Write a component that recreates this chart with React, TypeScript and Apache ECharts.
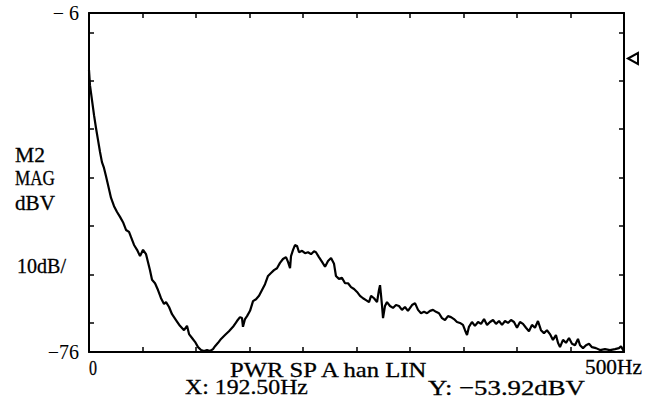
import React, { useEffect, useRef } from "react";
import * as echarts from "echarts";

// Spectrum trace (Hz, dBV)
const freqHz = [
  0, 0.9, 2.8, 4.7, 6.5, 8.4, 10.3, 12.1, 14.0, 15.9, 17.8, 20.6, 23.4, 26.2, 29.0, 31.8, 34.6, 37.4, 39.3, 42.1,
  44.9, 47.7, 50.5, 53.3, 55.1, 57.0, 58.9, 61.7, 64.5, 67.3, 70.1, 72.0, 74.8, 77.6, 81.3, 85.0, 88.8, 91.6, 93.5, 96.3,
  99.1, 101.9, 104.7, 107.5, 110.3, 113.1, 115.9, 117.8, 120.6, 123.4, 127.1, 130.8, 134.6, 138.3, 141.1, 143.0, 143.9, 145.8, 147.7, 150.5,
  153.3, 156.1, 158.9, 161.7, 164.5, 167.3, 170.1, 172.9, 175.7, 178.5, 181.3, 184.1, 186.0, 187.9, 188.8, 190.7, 192.5, 194.4, 196.3, 199.1,
  201.9, 204.7, 207.5, 210.3, 212.1, 214.9, 217.8, 220.6, 223.4, 226.2, 229.0, 230.8, 233.6, 236.4, 239.3, 242.1, 244.9, 247.7, 250.5, 253.3,
  256.1, 258.9, 261.7, 263.6, 266.4, 269.2, 271.0, 272.0, 272.9, 273.8, 274.8, 276.6, 278.5, 281.3, 284.1, 286.9, 289.7, 292.5, 295.3, 298.1,
  301.9, 304.7, 307.5, 310.3, 313.1, 315.9, 318.7, 321.5, 324.3, 327.1, 329.9, 332.7, 335.5, 338.3, 341.1, 343.9, 346.7, 349.5, 351.4, 353.3,
  355.1, 357.9, 360.7, 363.6, 366.4, 369.2, 372.0, 374.8, 377.6, 380.4, 383.2, 386.0, 388.8, 391.6, 394.4, 397.2, 400.0, 402.8, 405.6, 408.4,
  411.2, 414.0, 416.8, 419.6, 422.4, 425.2, 428.0, 430.8, 433.6, 436.4, 438.3, 440.2, 443.0, 445.8, 448.6, 451.4, 454.2, 457.0, 458.9, 461.7,
  464.5, 467.3, 470.1, 473.8, 477.6, 482.2, 486.9, 491.6, 495.3, 497.2, 499.1, 500.0,
];
const magDbv = [
  -17.8, -20.9, -24.0, -27.1, -29.7, -32.2, -34.7, -36.8, -38.0, -39.7, -41.5, -44.2, -45.9, -47.1, -48.1, -49.2, -50.8, -51.2, -52.3, -53.9,
  -54.9, -56.2, -54.9, -55.8, -57.4, -59.1, -61.1, -61.8, -63.2, -64.9, -66.1, -65.7, -66.7, -68.2, -69.4, -70.6, -71.5, -70.6, -72.3, -73.1,
  -73.9, -75.0, -75.6, -75.8, -75.6, -75.8, -75.4, -74.8, -74.1, -73.3, -72.5, -71.7, -70.8, -69.6, -68.8, -69.0, -70.8, -69.2, -68.6, -67.5,
  -65.5, -65.1, -64.4, -63.2, -62.0, -60.3, -59.7, -59.1, -58.7, -57.6, -56.8, -56.4, -57.4, -58.7, -56.2, -54.9, -53.92, -54.1, -55.4, -55.1,
  -55.6, -55.4, -55.8, -55.2, -55.4, -56.4, -57.4, -58.4, -57.2, -56.6, -57.8, -60.3, -60.9, -60.7, -61.8, -61.8, -62.6, -63.0, -63.6, -64.4,
  -64.9, -65.3, -65.7, -64.4, -64.9, -65.7, -63.2, -62.2, -64.2, -66.3, -69.0, -66.5, -65.7, -66.5, -66.9, -66.3, -66.5, -67.3, -66.7, -67.5,
  -66.3, -65.9, -67.3, -68.0, -67.7, -68.0, -67.5, -67.3, -67.7, -68.0, -69.0, -69.4, -68.6, -68.8, -69.2, -69.8, -70.0, -70.4, -71.5, -72.5,
  -70.8, -69.8, -70.6, -69.8, -70.2, -69.2, -70.4, -69.8, -69.4, -70.2, -69.6, -70.4, -69.6, -70.0, -69.4, -69.8, -71.0, -69.8, -70.2, -71.0,
  -71.7, -70.4, -71.0, -69.6, -71.5, -72.1, -71.5, -72.3, -73.5, -72.5, -74.1, -75.0, -73.5, -74.1, -73.1, -74.3, -74.6, -73.3, -74.6, -75.2,
  -74.6, -74.3, -75.0, -75.2, -75.6, -75.4, -75.6, -75.4, -75.2, -74.8, -75.6, -75.8,
];

const xMin = 0;
const xMax = 500;
const xInterval = 50;
const yMin = -76;
const yMax = -6;
const yTickValues = [-70, -60, -50, -40, -30, -20, -10];
const yLabelValues = [-76, -6];
const yLabelTexts = ["−76", "− 6"];
const markerLevel = -15.4;

const FONT = '"Liberation Serif", "DejaVu Serif", serif';

function measure(text: string, size: number): number {
  const ctx = document.createElement("canvas").getContext("2d");
  if (!ctx) return text.length * size * 0.5;
  ctx.font = `${size}px ${FONT}`;
  return ctx.measureText(text).width;
}

function fitText(text: string, left: number, cy: number, width: number, size: number) {
  const s = width / measure(text, size);
  return {
    type: "text",
    x: left,
    y: cy,
    scaleX: s,
    silent: true,
    style: {
      text,
      fill: "#000",
      stroke: "#000",
      lineWidth: 0.3,
      fontSize: size,
      fontFamily: FONT,
      align: "left",
      verticalAlign: "middle",
      textAlign: "left",
      textVerticalAlign: "middle",
    },
  };
}

export default function App() {
  const ref = useRef<HTMLDivElement>(null);
  useEffect(() => {
    if (!ref.current) return;
    const chart = echarts.init(ref.current, undefined, { renderer: "svg" });
    const data = freqHz.map((f, i) => [f, magDbv[i]]);
    const axisLine = { show: true, onZero: false, lineStyle: { color: "#000", width: 2 } };
    const xAxisBase = {
      type: "value",
      min: xMin,
      max: xMax,
      interval: xInterval,
      axisLine,
      axisTick: { show: true, inside: true, length: 5, lineStyle: { color: "#000", width: 1.5 } },
      axisLabel: { show: false },
      splitLine: { show: false },
    };
    const yAxisBase = {
      type: "value",
      min: yMin,
      max: yMax,
      axisLine,
      axisTick: {
        show: true,
        inside: true,
        length: 5,
        customValues: yTickValues,
        lineStyle: { color: "#000", width: 1.5 },
      },
      splitLine: { show: false },
    };
    chart.setOption({
      animation: false,
      backgroundColor: "#fff",
      grid: { left: 89, top: 13, right: 21, bottom: 57, containLabel: false },
      xAxis: [
        { ...xAxisBase, position: "bottom" },
        { ...xAxisBase, position: "top" },
      ],
      yAxis: [
        {
          ...yAxisBase,
          position: "left",
          axisLabel: {
            show: true,
            customValues: yLabelValues,
            formatter: (v: number) => yLabelTexts[yLabelValues.indexOf(v)] ?? "",
            color: "#000",
            fontSize: 20,
            fontFamily: FONT,
            margin: 10,
          },
        },
        { ...yAxisBase, position: "right", axisLabel: { show: false } },
      ],
      series: [
        {
          type: "line",
          data,
          xAxisIndex: 0,
          yAxisIndex: 0,
          showSymbol: false,
          symbol: "none",
          lineStyle: { color: "#000", width: 2.2 },
          markPoint: {
            symbol: "triangle",
            symbolSize: [11, 10],
            symbolRotate: 90,
            symbolOffset: [9, 0],
            itemStyle: { color: "#fff", borderColor: "#000", borderWidth: 2 },
            label: { show: false },
            data: [{ coord: [xMax, markerLevel] }],
          },
        },
      ],
      graphic: [
        fitText("M2", 15, 155, 30, 21),
        fitText("MAG", 15, 178, 40, 21),
        fitText("dBV", 15, 203, 40, 21),
        fitText("10dB/", 17, 266, 49, 21),
        fitText("0", 89, 368, 8, 21),
        fitText("500Hz", 585, 367, 57, 21),
        fitText("PWR SP A han LIN", 230, 369, 200, 22),
        fitText("X: 192.50Hz", 185, 387, 123, 22),
        fitText("Y: −53.92dBV", 428, 387, 157, 22),
      ],
    });
    return () => chart.dispose();
  }, []);
  return (
    <div
      ref={ref}
      style={{ position: "fixed", left: 0, top: 0, width: 645, height: 409, background: "#fff" }}
    />
  );
}
